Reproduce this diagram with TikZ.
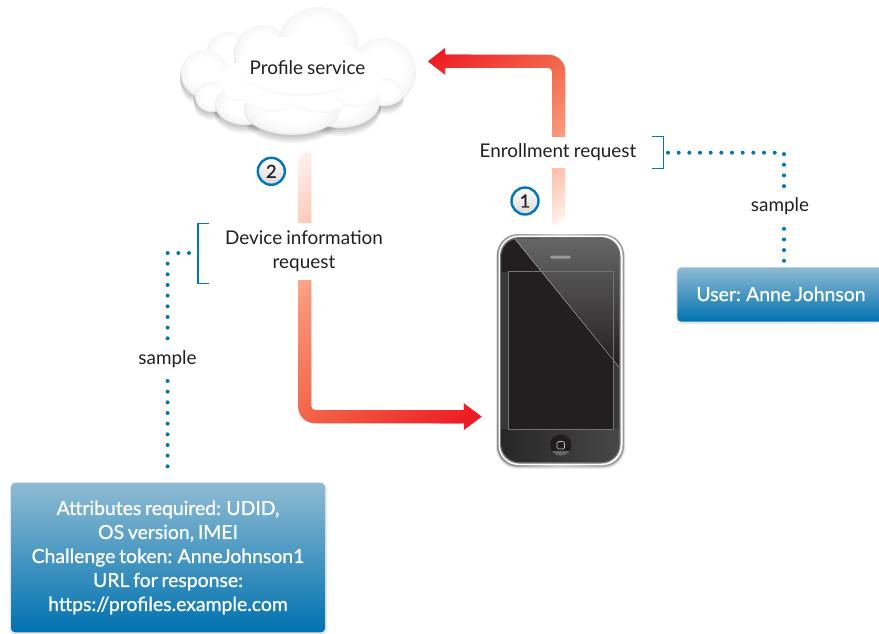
\documentclass[tikz,border=0pt]{standalone}
\usepackage{fontspec}
\setmainfont[WordSpace=0.85]{Lato}
\newfontfamily\boxfont[FakeBold=0.9,WordSpace=0.75]{Lato}
\usetikzlibrary{calc}
\definecolor{ink}{HTML}{231F20}
\definecolor{blueline}{HTML}{0075B8}
\definecolor{boxtop}{HTML}{8FBBD3}
\definecolor{boxbot}{HTML}{0072B0}
\definecolor{hotred}{HTML}{ED1C24}
\definecolor{midred}{HTML}{F26549}
\definecolor{midlow}{HTML}{F8977B}
\definecolor{lowred}{HTML}{FBBBA5}
\definecolor{palered}{HTML}{FFF2EC}
\definecolor{cloudgray}{HTML}{CFD1D3}
\pgfdeclareverticalshading{redfade}{100bp}{color(0bp)=(palered); color(25bp)=(palered); color(37bp)=(lowred); color(43bp)=(midlow); color(57.5bp)=(midred); color(75bp)=(hotred); color(100bp)=(hotred)}
\pgfdeclareradialshading{lobe}{\pgfpoint{0bp}{3bp}}{color(0bp)=(white); color(15bp)=(white); color(24bp)=(white!80!cloudgray); color(28bp)=(cloudgray); color(50bp)=(cloudgray)}
\pgfdeclareradialshading{lobefront}{\pgfpoint{0bp}{10bp}}{color(0bp)=(white); color(26bp)=(white); color(30bp)=(white!70!cloudgray); color(35bp)=(cloudgray!90!white); color(50bp)=(cloudgray)}
\tikzset{
  x=1pt,y=-1pt,
  label text/.style={font=\fontsize{18.9}{24}\selectfont,text=ink,align=center,inner sep=0pt},
  gap label/.style={label text,fill=white},
  bluebox/.style={rounded corners=4pt,top color=boxtop,bottom color=boxbot},
  box shade/.style={rounded corners=5pt,fill=black,opacity=0.09},
  box text/.style={font=\boxfont\fontsize{19.4}{24}\selectfont,text=white,align=center,inner sep=0pt},
  dotline/.style={draw=blueline,line width=4pt,line cap=round,dash pattern=on 0pt off 10.67pt},
  bracket/.style={draw=blueline,line width=1.1pt},
  badge/.style={circle,draw=blueline,line width=2.4pt,minimum size=27pt,inner sep=0pt,top color=white,bottom color=black!15,font=\boxfont\fontsize{18}{20}\selectfont,text=ink},
}
\begin{document}
\begin{tikzpicture}
\useasboundingbox (0,0) rectangle (879,633);
\fill[white] (0,0) rectangle (879,633);
% anchors
\node[minimum width=127pt,minimum height=233pt,inner sep=0pt] (phone) at (560.5,350.5) {};
\coordinate (e1start) at ($(phone.north)+(-1.8,-9.5)$);
\coordinate (e1turn) at (e1start |- 0,61.3);
\coordinate (e1tip) at (428,61.3);
\coordinate (e2start) at (304.7,153);
\coordinate (e2turn) at (304.7,416.7);
\coordinate (e2tip) at ($(phone.west)+(-15,66.2)$);
% cloud shadow
\foreach \dy/\op in {2/0.06,4/0.06,6/0.06,8/0.05}{
\foreach \cx/\cy/\rx/\ry in {205/74/24/24,212/97/17/15,245/105/30/20,385/92/18/14,340/102/40/26,292/110/48/25}{
  \fill[black,opacity=\op] ({\cx},{\cy+\dy}) ellipse ({\rx+1} and {\ry});
}}
% cloud back
\foreach \cx/\cy/\rx/\ry in {228/52/21/20,262/55/28/30,205/74/24/24,382/72/34/34,318/45/40/38,385/92/18/14,212/97/17/15,245/105/30/20,340/102/40/26,292/110/48/25}{
  \shade[shading=lobe] ({\cx},{\cy}) ellipse ({\rx} and {\ry});
}
% cloud front
\foreach \cx/\cy/\rx/\ry in {240/82/20/19,272/88/32/24,320/88/36/25,356/80/26/27,302/66/64/30}{
  \shade[shading=lobefront] ({\cx},{\cy}) ellipse ({\rx} and {\ry});
}
\fill[white,opacity=0.8] (305,66) ellipse (66 and 24);
\node[label text] (cloud) at (307.5,68) {Profile service};
% arrow 1
\begin{scope}
\clip ($(e1start)+(-6.65,0)$) [rounded corners=4pt] -- ($(e1turn)+(-6.65,6.65)$) [sharp corners] -- ($(e1tip)+(17,6.65)$) -- ($(e1tip)+(17,13.3)$) -- (e1tip) -- ($(e1tip)+(17,-13.3)$) -- ($(e1tip)+(17,-6.65)$) [rounded corners=17pt] -- ($(e1turn)+(6.65,-6.65)$) [sharp corners] -- ($(e1start)+(6.65,0)$) -- cycle;
\fill[hotred] (420,40) rectangle (470,90);
\begin{scope}[transform canvas={rotate around={35:(493,142.5)}}]
\shade[shading=redfade] (293,39.5) rectangle (693,245.5);
\end{scope}
\end{scope}
% arrow 2
\begin{scope}
\clip ($(e2start)+(-6.65,0)$) [rounded corners=17pt] -- ($(e2turn)+(-6.65,6.65)$) [sharp corners] -- ($(e2tip)+(-18,6.65)$) -- ($(e2tip)+(-18,13.3)$) -- (e2tip) -- ($(e2tip)+(-18,-13.3)$) -- ($(e2tip)+(-18,-6.65)$) [rounded corners=4pt] -- ($(e2turn)+(6.65,-6.65)$) [sharp corners] -- ($(e2start)+(6.65,0)$) -- cycle;
\fill[hotred] (440,395) rectangle (490,440);
\begin{scope}[transform canvas={rotate around={220.6:(387.5,284.4)}}]
\shade[shading=redfade] (87.5,130.8) rectangle (687.5,438);
\end{scope}
\end{scope}
% phone
\fill[black!35] (496.5,277) rectangle (500,301);
\fill[black!35] (496.5,302) rectangle (500,325);
\fill[black!45] (582,234) rectangle (590,236);
\fill[black,opacity=0.12,rounded corners=21pt] (496,236) rectangle (625,468.5);
\shade[rounded corners=21pt,left color=black!45,right color=black!40,middle color=black!20] (497,234) rectangle (624,467);
\fill[white,rounded corners=20pt] (498.5,235.5) rectangle (622.5,465);
\fill[black!55,rounded corners=19pt] (500,237) rectangle (620.5,463.5);
\begin{scope}
\clip[rounded corners=18pt] (501.5,238.5) rectangle (619,462);
\shade[top color=black!78,bottom color=black!78] (501,238) rectangle (620,463);
\shade[left color=black!85,right color=black!72] (501,429) rectangle (620,463);
\fill[ink] (501,238) rectangle (540,272);
\fill[ink] (508,271) rectangle (613,430);
\shade[top color=black!60,bottom color=ink] (514.5,238.5) -- (619.5,238.5) -- (619.5,367) -- cycle;
\draw[white,opacity=0.55,line width=0.5pt] (514.5,238.5) -- (619,367);
\end{scope}
\draw[black!55,line width=1pt] (508,271.7) rectangle (613.2,429.3);
\fill[black!40,rounded corners=1.5pt] (550,255.5) rectangle (571,258.5);
\fill[ink!90!black] (560.7,445) circle (10.7);
\begin{scope}
\clip (560.7,445) circle (10.7);
\fill[black!60] (549,451) rectangle (572,456);
\end{scope}
\draw[white!75!black,line width=0.7pt,rounded corners=1.5pt] (557,441.5) rectangle (564.5,449);
% badges
\node[badge] (b1) at (525,201) {1};
\node[badge] (b2) at (271.3,171.3) {2};
% labels over arrows
\node[gap label,minimum width=157pt,minimum height=31pt] (enroll) at (558,152.5) {Enrollment request};
\node[gap label,minimum width=157pt,minimum height=57pt] (devinfo) at (304,251.5) {Device information\\request};
% boxes
\fill[box shade] (676,269) rectangle (881,324);
\fill[box shade] (9.5,484) rectangle (327,634.5);
\shade[bluebox] (677.3,267.3) rectangle (885,321.7);
\node[box text] (user) at (781,294) {User: Anne Johnson};
\coordinate (userport) at (784,267);
\shade[bluebox] (11,482.7) rectangle (325,632.3);
\node[box text] (attrs) at (168,557.5) {Attributes required: UDID,\\OS version, IMEI\\Challenge token: AnneJohnson1\\URL for response:\\https://profiles.example.com};
\coordinate (attrport) at (167.6,482);
% brackets
\coordinate (brR) at (663.5,152.5);
\coordinate (brL) at (198,253.5);
\draw[bracket] (652,136.3) -| (brR) |- (652,168.3);
\draw[bracket] (209,223.7) -| (brL) |- (209,283.3);
% dotted connectors
\draw[dotline] (668,152.7) -- (784,152.7) -- (784,261.5);
\draw[dotline] (189,253) -- (167.6,253) -- (167.6,477);
\node[label text,fill=white,minimum width=62pt,minimum height=34pt] (s1) at (780,206.5) {sample};
\node[label text,fill=white,minimum width=62pt,minimum height=34pt] (s2) at (167.5,359) {sample};
\end{tikzpicture}
\end{document}
